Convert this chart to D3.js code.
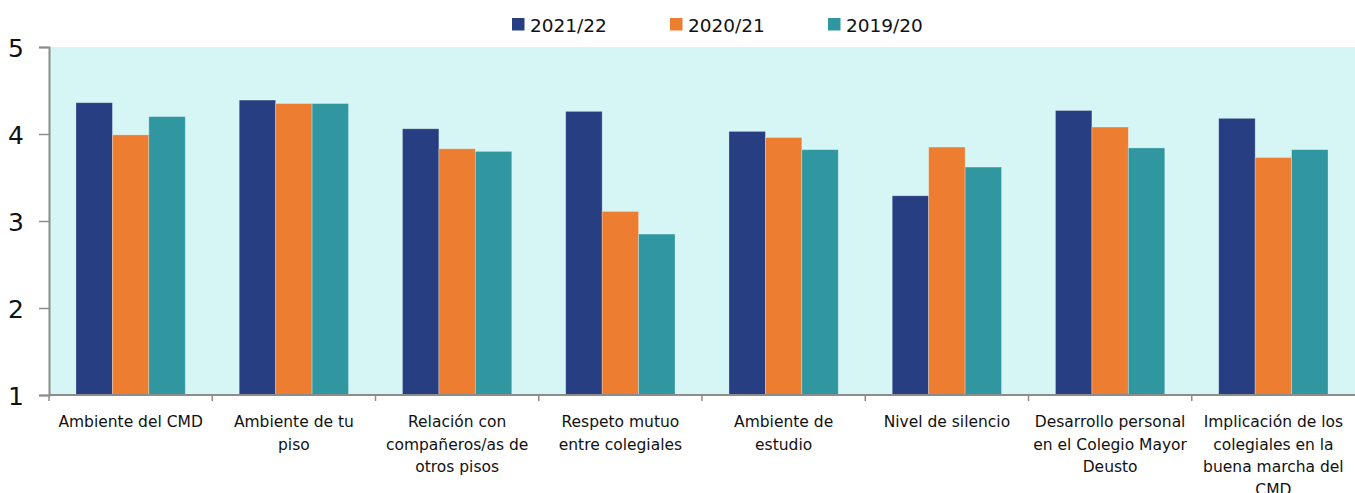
<!DOCTYPE html>
<html>
<head>
<meta charset="utf-8">
<script src="https://cdn.jsdelivr.net/npm/d3@7"></script>
<style>
  body { margin: 0; background: #fff; }
  svg text { font-family: "DejaVu Sans", Verdana, sans-serif; fill: #111; }
</style>
</head>
<body>
<div id="chart"></div>
<script>
  "use strict";

  // categories, split the way the original wraps them
  var categories = [
    ["Ambiente del CMD"],
    ["Ambiente de tu", "piso"],
    ["Relación con", "compañeros/as de", "otros pisos"],
    ["Respeto mutuo", "entre colegiales"],
    ["Ambiente de", "estudio"],
    ["Nivel de silencio"],
    ["Desarrollo personal", "en el Colegio Mayor", "Deusto"],
    ["Implicación de los", "colegiales en la", "buena marcha del", "CMD"]
  ];
  var seriesNames = ["2021/22", "2020/21", "2019/20"];
  var values2122 = [4.36, 4.39, 4.06, 4.26, 4.03, 3.29, 4.27, 4.18];
  var values2021 = [3.99, 4.35, 3.83, 3.11, 3.96, 3.85, 4.08, 3.73];
  var values1920 = [4.20, 4.35, 3.80, 2.85, 3.82, 3.62, 3.84, 3.82];
  var yTicks = [1, 2, 3, 4, 5];
  var colors = ["#283e82", "#ed7d31", "#3096a0"];

  var W = 1355, H = 493;
  var margin = {left: 49, right: 0, top: 47, bottom: 98};
  var innerW = W - margin.left - margin.right;
  var innerH = H - margin.top - margin.bottom;

  var svg = d3.select("#chart").append("svg").attr("width", W).attr("height", H);
  var g = svg.append("g").attr("transform", "translate(" + margin.left + "," + margin.top + ")");

  var x = d3.scaleBand().domain(d3.range(categories.length)).range([0, innerW]).paddingInner(0).paddingOuter(0);
  var xs = d3.scaleBand().domain(seriesNames).range([0, x.bandwidth()]).paddingInner(0).paddingOuter(0.74);
  var y = d3.scaleLinear().domain([1, 5]).range([innerH, 0]);

  g.append("rect").attr("width", innerW).attr("height", innerH).attr("fill", "#d5f6f4");

  var series = [values2122, values2021, values1920];
  var rows = categories.map(function (c, i) {
    return seriesNames.map(function (s, j) { return {cat: i, name: s, value: series[j][i], color: colors[j]}; });
  });

  g.selectAll(".group").data(rows).join("g")
    .attr("class", "group")
    .attr("transform", function (d, i) { return "translate(" + x(i) + ",0)"; })
    .selectAll("rect").data(function (d) { return d; }).join("rect")
    .attr("x", function (d) { return xs(d.name); })
    .attr("width", xs.bandwidth())
    .attr("y", function (d) { return y(d.value); })
    .attr("height", function (d) { return y(1) - y(d.value); })
    .attr("fill", function (d) { return d.color; })
    .attr("stroke", "rgba(255,255,255,0.35)")
    .attr("stroke-width", 0.8);

  // y axis
  var yAxis = g.append("g").call(d3.axisLeft(y).tickValues(yTicks).tickSize(10).tickFormat(d3.format("d")));
  yAxis.select(".domain").attr("stroke", "#8c8c8c").attr("stroke-width", 2);
  yAxis.selectAll(".tick line").attr("stroke", "#8c8c8c").attr("stroke-width", 1.5);
  yAxis.selectAll(".tick text").attr("x", -33).attr("dy", "0.36em")
    .style("font-size", "25px").style("text-anchor", "middle").attr("fill", "#111");

  // x axis line and ticks at band boundaries
  g.append("line").attr("x1", 0).attr("x2", innerW).attr("y1", innerH).attr("y2", innerH)
    .attr("stroke", "#8c8c8c").attr("stroke-width", 2);
  g.selectAll(".xtick").data(d3.range(categories.length)).join("line")
    .attr("class", "xtick")
    .attr("x1", function (i) { return x(i); }).attr("x2", function (i) { return x(i); })
    .attr("y1", innerH).attr("y2", innerH + 6)
    .attr("stroke", "#8c8c8c").attr("stroke-width", 1.5);

  // category labels
  g.selectAll(".xlabel").data(categories).join("text")
    .attr("class", "xlabel")
    .attr("text-anchor", "middle")
    .style("font-size", "15.5px")
    .attr("transform", function (d, i) { return "translate(" + (x(i) + x.bandwidth() / 2) + "," + (innerH + 32) + ")"; })
    .selectAll("tspan").data(function (d) { return d; }).join("tspan")
    .attr("x", 0)
    .attr("y", function (d, k) { return k * 22.6; })
    .text(function (d) { return d; });

  // legend
  var legendX = [512, 670, 828];
  var legend = svg.selectAll(".legend").data(seriesNames).join("g")
    .attr("class", "legend")
    .attr("transform", function (d, i) { return "translate(" + legendX[i] + ",18)"; });
  legend.append("rect").attr("width", 12.5).attr("height", 12.5).attr("fill", function (d, i) { return colors[i]; });
  legend.append("text").attr("x", 18).attr("y", 13.5).style("font-size", "18.5px").text(function (d) { return d; });
</script>
</body>
</html>
